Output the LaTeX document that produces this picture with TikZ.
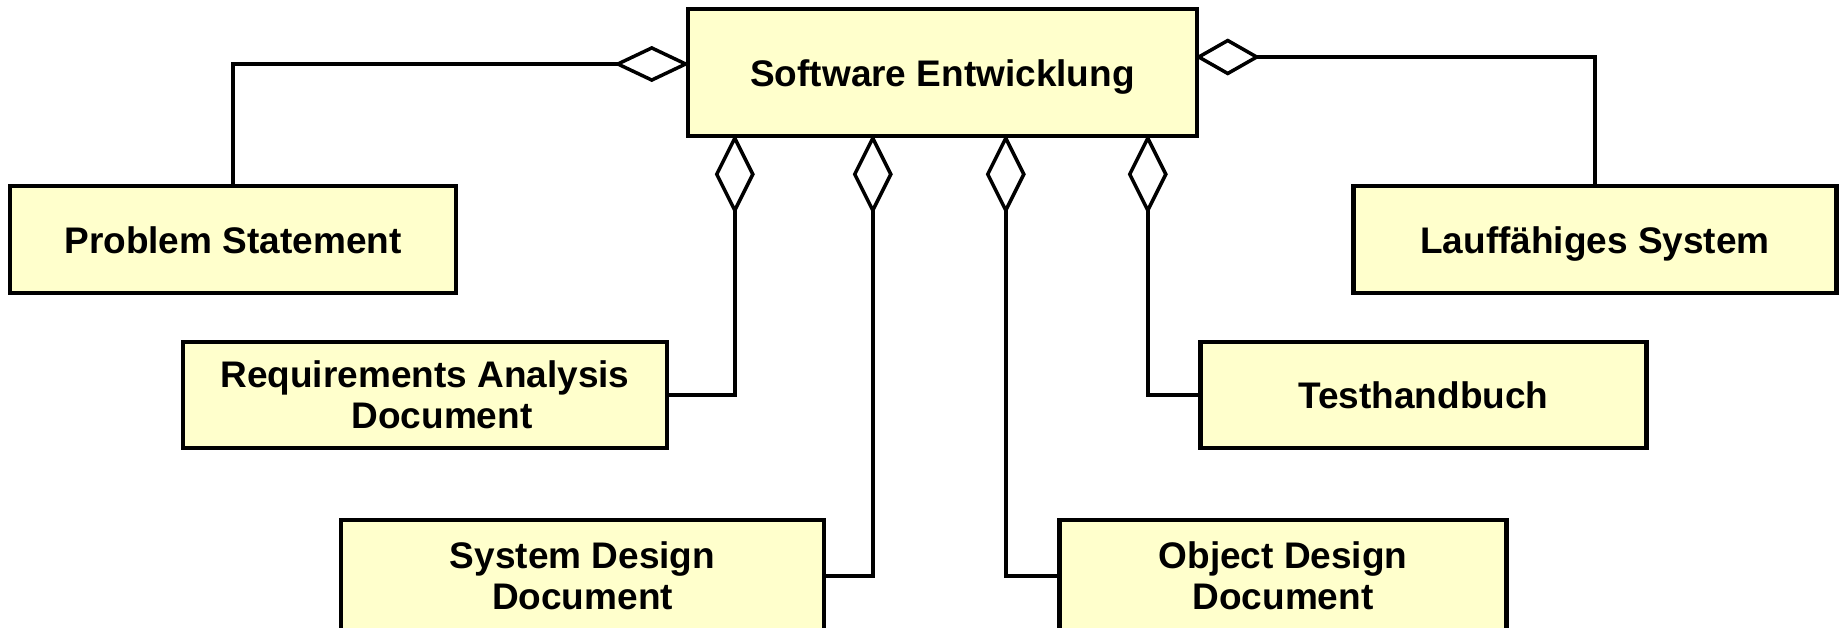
\documentclass[tikz,border=0pt]{standalone}
\usepackage{fontspec}
\setmainfont{Liberation Sans}
\usetikzlibrary{arrows.meta}
\definecolor{boxfill}{RGB}{255,255,204}
\begin{document}
\begin{tikzpicture}[x=1pt,y=-1pt,
  box/.style={draw=black, line width=4.5pt, fill=boxfill, inner sep=0pt,
    align=center, font=\bfseries\fontsize{37}{41}\selectfont},
  oneline/.style={text height=27pt, text depth=0pt},
  link/.style={draw=black, line width=3.5pt, line join=miter, shorten >=-4pt},
  agg/.style={link, -{Diamond[open, length=80pt, width=40pt]}},
  aggleft/.style={link, -{Diamond[open, length=76pt, width=36pt]}},
  aggright/.style={link, -{Diamond[open, length=65pt, width=37pt]}}
]
\useasboundingbox (0,0) rectangle (1841,627);

% whole and parts
\node[box, oneline, minimum width=509pt, minimum height=127pt] (dev)  at (942.5,72.5) {Software Entwicklung};
\node[box, oneline, minimum width=446pt, minimum height=107pt] (prob) at (233,239.5)  {Problem Statement};
\node[box, oneline, minimum width=483pt, minimum height=107pt] (lauf) at (1595,239.5) {Lauffähiges System};
\node[box, minimum width=484pt, minimum height=106pt] (req)  at (425,395)    {Requirements Analysis\\\hspace*{34pt}Document};
\node[box, oneline, minimum width=446pt, minimum height=106pt] (test) at (1423.5,395) {Testhandbuch};
\node[box, minimum width=483pt, minimum height=112pt] (sysd) at (582.5,576)  {System Design\\Document};
\node[box, minimum width=447pt, minimum height=112pt] (objd) at (1283,576)   {Object Design\\Document};

% attachment points on the whole
\coordinate (dl) at ([yshift=8.5pt]dev.west);
\coordinate (dr) at ([yshift=15.5pt]dev.east);
\coordinate (d1) at ([xshift=49pt]dev.south west);
\coordinate (d2) at ([xshift=187pt]dev.south west);
\coordinate (d3) at ([xshift=320pt]dev.south west);
\coordinate (d4) at ([xshift=462pt]dev.south west);

% aggregation links
\draw[aggleft]  (prob.north) |- (dl);
\draw[aggright] (lauf.north) |- (dr);
\draw[agg] (req.east)  -| (d1);
\draw[agg] (sysd.east) -| (d2);
\draw[agg] (objd.west) -| (d3);
\draw[agg] (test.west) -| (d4);
\end{tikzpicture}
\end{document}
